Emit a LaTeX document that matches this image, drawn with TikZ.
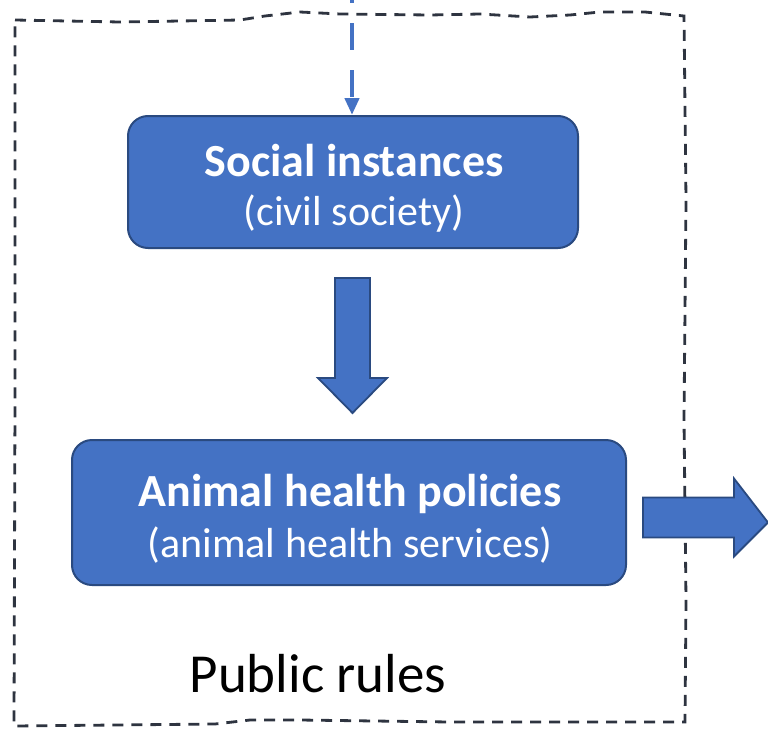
\documentclass[tikz,border=0pt]{standalone}
\usepackage{fontspec}
\setmainfont{Carlito}
\usetikzlibrary{arrows.meta,calc}
\definecolor{boxblue}{HTML}{4472C4}
\definecolor{boxedge}{HTML}{2A4A80}
\definecolor{framegray}{HTML}{2E3440}
\tikzset{
  bluebox/.style={draw=boxedge, line width=2pt, fill=boxblue, rounded corners=20pt, inner sep=0pt},
  titletext/.style={text=white, font=\bfseries\fontsize{46}{50}\selectfont, anchor=base, inner sep=0pt},
  subtext/.style={text=white, font=\fontsize{42}{46}\selectfont, anchor=base, inner sep=0pt},
  blockarrow/.style={draw=boxedge, line width=1.8pt, fill=boxblue, line join=miter},
  frameline/.style={draw=framegray, line width=2.8pt, dash pattern=on 11pt off 8pt},
}
\begin{document}
\begin{tikzpicture}[x=1pt,y=-1pt]
\useasboundingbox (0,0) rectangle (768,731);
% frame
\draw[frameline] (15,20) -- (120,22) -- (240,20) -- (265,16) -- (300,12) -- (340,14)
  -- (430,15) -- (480,14) -- (530,17) -- (570,15) -- (600,12) -- (645,12) -- (684,16)
  -- (686,200) -- (684,420) -- (686,600) -- (685,722)
  -- (450,722) -- (300,720) -- (250,720) -- (215,724) -- (14,726) -- (15,400) -- cycle;
% boxes
\node[bluebox, minimum width=450pt, minimum height=132pt] (soc) at (353,182) {};
\node[bluebox, minimum width=554pt, minimum height=145pt] (ahp) at (349,512.5) {};
\node[titletext] (soct) at (354,176) {Social instances};
\node[subtext] (socs) at (354,225) {(civil society)};
\node[titletext] (ahpt) at (350,506) {Animal health policies};
\node[subtext] (ahps) at (350,557) {(animal health services)};
\node[anchor=base, inner sep=0pt, font=\fontsize{55}{60}\selectfont] (pub) at (318,692) {Public rules};
% dashed input arrow
\coordinate (top) at (352,0);
\draw[draw=boxblue, line width=4.5pt, dash pattern=on 27pt off 20pt, dash phase=24pt,
  -{Triangle[length=17pt,width=14pt]}] (top) -- (soc.north -| top);
% down block arrow
\draw[blockarrow] ($(soc.south)+(-18,29)$) -- ($(soc.south)+(17,29)$) -- ($(soc.south)+(17,129)$)
  -- ($(soc.south)+(34,129)$) -- ($(soc.south)+(-0.5,164)$) -- ($(soc.south)+(-35,129)$)
  -- ($(soc.south)+(-18,129)$) -- cycle;
% right block arrow
\draw[blockarrow] ($(ahp.east)+(16,-15)$) -- ($(ahp.east)+(107,-15)$) -- ($(ahp.east)+(107,-34)$)
  -- ($(ahp.east)+(141,10)$) -- ($(ahp.east)+(107,44)$) -- ($(ahp.east)+(107,25)$)
  -- ($(ahp.east)+(16,25)$) -- cycle;
\end{tikzpicture}
\end{document}
